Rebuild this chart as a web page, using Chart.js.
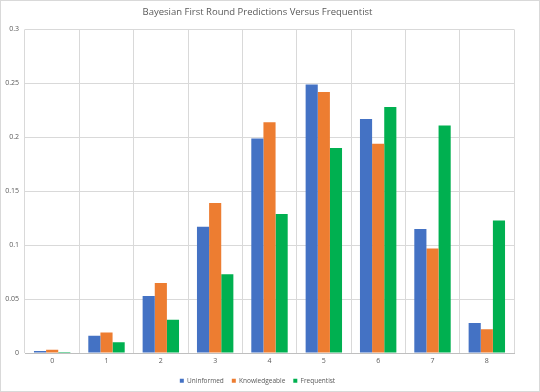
<!DOCTYPE html>
<html>
<head>
<meta charset="utf-8">
<script src="https://cdn.jsdelivr.net/npm/chart.js@4/dist/chart.umd.min.js"></script>
<style>
  html, body { margin: 0; padding: 0; background: #fff; }
  #wrap { position: relative; width: 538px; height: 390px; border: 1px solid #d9d9d9; }
</style>
</head>
<body>
<div id="wrap"><canvas id="mainBarChart"></canvas></div>
<script>
// data
const categories = ['0', '1', '2', '3', '4', '5', '6', '7', '8'];
const uninformed = [0.002, 0.016, 0.053, 0.117, 0.199, 0.249, 0.217, 0.115, 0.028];
const knowledgeable = [0.003, 0.019, 0.065, 0.139, 0.214, 0.242, 0.194, 0.097, 0.022];
const frequentist = [0.001, 0.010, 0.031, 0.073, 0.129, 0.190, 0.228, 0.211, 0.123];
const yTicks = [0, 0.05, 0.1, 0.15, 0.2, 0.25, 0.3];

const FONT = 'Open Sans';
const GRAY = '#595959';

function renderChart() {
    const ctx = document.getElementById('mainBarChart').getContext('2d');
    new Chart(ctx, {
        type: 'bar',
        data: {
            labels: categories,
            datasets: [
                { label: 'Uninformed', data: uninformed, backgroundColor: '#4472c4' },
                { label: 'Knowledgeable', data: knowledgeable, backgroundColor: '#ed7d31' },
                { label: 'Frequentist', data: frequentist, backgroundColor: '#00b050' }
            ]
        },
        options: {
            responsive: true,
            maintainAspectRatio: false,
            animation: false,
            datasets: { bar: { categoryPercentage: 0.67, barPercentage: 1.0 } },
            layout: { padding: { left: 0, right: 25, top: 3, bottom: -3 } },
            plugins: {
                title: {
                    display: true,
                    text: 'Bayesian First Round Predictions Versus Frequentist',
                    color: GRAY,
                    font: { family: FONT, size: 9.5, weight: 'normal' },
                    padding: { top: 3, bottom: 11 }
                },
                legend: {
                    position: 'bottom',
                    labels: {
                        boxWidth: 4, boxHeight: 4,
                        color: GRAY,
                        font: { family: FONT, size: 6.5 },
                        padding: 8
                    }
                },
                tooltip: { enabled: false }
            },
            scales: {
                x: {
                    grid: { color: '#d9d9d9', offset: true, drawTicks: false },
                    border: { color: '#bfbfbf' },
                    ticks: { color: GRAY, font: { family: FONT, size: 7 }, padding: 4 }
                },
                y: {
                    min: 0, max: 0.3,
                    afterBuildTicks: axis => { axis.ticks = yTicks.map(v => ({ value: v })); },
                    afterFit: axis => { axis.width = 24; },
                    grid: { color: '#d9d9d9', drawTicks: false },
                    border: { display: false },
                    ticks: {
                        color: GRAY, font: { family: FONT, size: 7 }, padding: 6,
                        callback: v => String(+v.toFixed(2))
                    }
                }
            }
        }
    });
}

document.addEventListener('DOMContentLoaded', renderChart);
</script>
</body>
</html>
